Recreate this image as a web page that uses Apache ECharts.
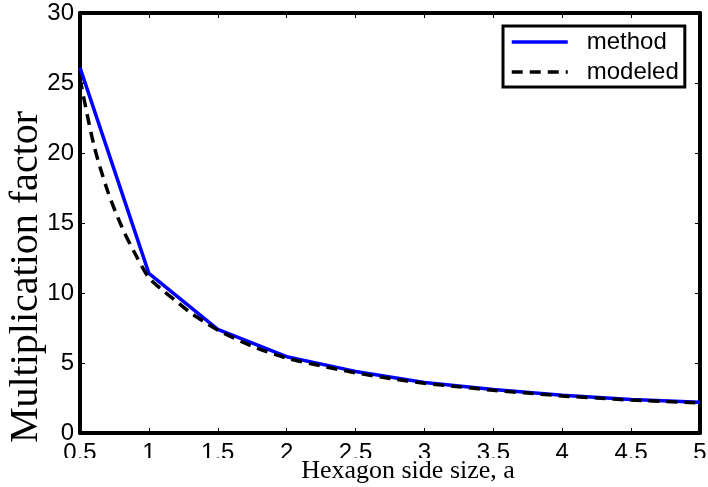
<!DOCTYPE html>
<html>
<head>
<meta charset="utf-8">
<script src="https://cdn.jsdelivr.net/npm/echarts@6/dist/echarts.min.js"></script>
<style>
  html, body { margin: 0; padding: 0; background: #fff; }
  #chart { width: 708px; height: 487px; }
</style>
</head>
<body>
<div id="chart"></div>
<script>
// hexagon side size a
var methodX = [0.5, 1, 1.5, 2, 2.5, 3, 3.5, 4, 4.5, 5];
var methodY = [26.1, 11.4, 7.4, 5.45, 4.4, 3.6, 3.1, 2.7, 2.4, 2.2];

var modeledX = [0.5, 0.6, 0.7, 0.8, 0.9, 1.0, 1.1, 1.2, 1.3, 1.4, 1.5, 1.75, 2, 2.25, 2.5, 2.75, 3, 3.25, 3.5, 3.75, 4, 4.25, 4.5, 4.75, 5];
var modeledY = [25.3, 20.6, 17.3, 14.8, 12.8, 11.1, 10.2, 9.4, 8.6, 7.95, 7.35, 6.2, 5.35, 4.8, 4.3, 3.9, 3.55, 3.3, 3.05, 2.85, 2.65, 2.5, 2.35, 2.25, 2.15];

var xTicks = [0.5, 1, 1.5, 2, 2.5, 3, 3.5, 4, 4.5, 5];
var yTicks = [0, 5, 10, 15, 20, 25, 30];

var xTitle = 'Hexagon side size, a';
var yTitle = 'Multiplication factor';

function pairs(xs, ys) {
    return xs.map(function (x, i) { return [x, ys[i]]; });
}

var chart = echarts.init(document.getElementById('chart'));

var sans = 'Liberation Sans';
var serif = 'Liberation Serif';

var boxLine = { show: true, onZero: false, lineStyle: { color: '#000', width: 4 } };
var tick = { show: true, inside: true, length: 5, lineStyle: { color: '#000', width: 1 } };

var xRange = { type: 'value', min: xTicks[0], max: xTicks[xTicks.length - 1], interval: xTicks[1] - xTicks[0] };
var yRange = { type: 'value', min: yTicks[0], max: yTicks[yTicks.length - 1], interval: yTicks[1] - yTicks[0] };

var option = {
    backgroundColor: '#fff',
    animation: false,
    grid: { left: 80, right: 8, top: 13, bottom: 54, outerBoundsMode: 'none' },
    legend: {
        orient: 'vertical',
        left: 503,
        top: 26,
        padding: [4, 6, 3, 7],
        borderColor: '#000',
        borderWidth: 3,
        itemWidth: 56,
        itemHeight: 14,
        itemGap: 6,
        itemStyle: { opacity: 0 },
        lineStyle: { width: 3.5 },
        backgroundColor: '#fff',
        textStyle: { fontFamily: sans, fontSize: 24, color: '#000', padding: [0, 0, 0, 14], lineHeight: 23 },
        data: ['method', 'modeled']
    },
    graphic: [
        // the reference's tick labels lose their lower part
        { type: 'rect', left: 0, top: 458, shape: { width: 708, height: 9 }, style: { fill: '#fff' }, z: 100 },
        {
            type: 'text', x: 408, y: 458, z: 101,
            style: { text: xTitle, fontFamily: serif, fontSize: 26, fill: '#000', align: 'center', verticalAlign: 'top' }
        }
    ],
    xAxis: [
        Object.assign({}, xRange, {
            position: 'bottom',
            axisLine: boxLine,
            axisTick: tick,
            splitLine: { show: false },
            axisLabel: { fontFamily: sans, fontSize: 24, color: '#000', margin: 8 }
        }),
        Object.assign({}, xRange, {
            position: 'top',
            axisLine: boxLine,
            axisTick: tick,
            splitLine: { show: false },
            axisLabel: { show: false }
        })
    ],
    yAxis: [
        Object.assign({}, yRange, {
            position: 'left',
            axisLine: boxLine,
            axisTick: tick,
            splitLine: { show: false },
            axisLabel: { fontFamily: sans, fontSize: 24, color: '#000', margin: 6 },
            name: yTitle,
            nameLocation: 'middle',
            nameGap: 34,
            nameMoveOverlap: false,
            nameTextStyle: { fontFamily: serif, fontSize: 40, color: '#000', padding: [0, 108, 0, 0] }
        }),
        Object.assign({}, yRange, {
            position: 'right',
            axisLine: boxLine,
            axisTick: tick,
            splitLine: { show: false },
            axisLabel: { show: false }
        })
    ],
    series: [
        {
            name: 'method',
            type: 'line',
            data: pairs(methodX, methodY),
            symbol: 'none',
            lineStyle: { color: '#0000ff', width: 3.5 },
            itemStyle: { color: '#0000ff' },
            z: 2
        },
        {
            name: 'modeled',
            type: 'line',
            data: pairs(modeledX, modeledY),
            symbol: 'none',
            smooth: 0.3,
            lineStyle: { color: '#000', width: 3.5, type: [11, 7] },
            itemStyle: { color: '#000' },
            z: 3
        }
    ]
};

chart.setOption(option);
</script>
</body>
</html>
